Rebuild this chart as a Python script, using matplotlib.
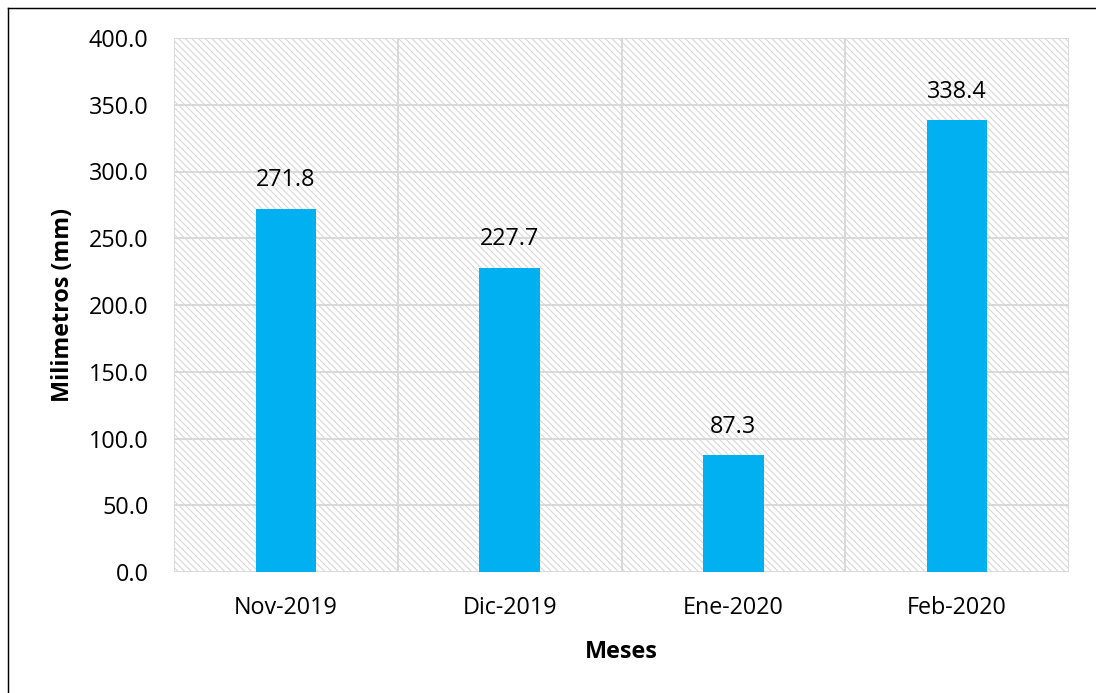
import matplotlib.pyplot as plt
from matplotlib.patches import Rectangle
from matplotlib.lines import Line2D
import numpy as np

meses = ['Nov-2019', 'Dic-2019', 'Ene-2020', 'Feb-2020']
precipitacion = [271.8, 227.7, 87.3, 338.4]
y_ticks = [0, 50, 100, 150, 200, 250, 300, 350, 400]

plt.rcParams['font.family'] = ['Open Sans', 'DejaVu Sans']
plt.rcParams['hatch.color'] = '#d4d4d4'
plt.rcParams['hatch.linewidth'] = 0.9

dpi = 80
fs = 21
fig = plt.figure(figsize=(1096 / dpi, 693 / dpi), dpi=dpi)
ax = fig.add_axes([174 / 1096, 1 - 572 / 693, (1069 - 174) / 1096, (572 - 38) / 693])

# diagonal hatched background of the plot area
ax.add_patch(Rectangle((0, 0), 1, 1, transform=ax.transAxes, facecolor='white',
                       edgecolor='#d4d4d4', hatch='\\\\\\\\', linewidth=0, zorder=0))

x = np.arange(len(meses))
bars = ax.bar(x, precipitacion, width=0.27, color='#00b0f0', zorder=3)

for xi, v in zip(x, precipitacion):
    ax.annotate(f'{v:.1f}', (xi, v), xytext=(0, 15), textcoords='offset points',
                ha='center', va='bottom', fontsize=fs)

ax.set_xlim(-0.5, len(meses) - 0.5)
ax.set_ylim(0, 400)
ax.set_yticks(y_ticks)
ax.set_yticklabels([f'{t:.1f}' for t in y_ticks], fontsize=fs)
ax.set_xticks(x)
ax.set_xticklabels(meses, fontsize=fs)
ax.tick_params(axis='y', length=0, pad=23)
ax.tick_params(axis='x', length=0, pad=22)

# grid lines: horizontal at every tick, vertical between categories
for t in y_ticks:
    ax.axhline(t, color='#d9d9d9', lw=1.8, zorder=1)
for b in np.arange(-0.5, len(meses), 1.0):
    ax.axvline(b, color='#d9d9d9', lw=1.8, zorder=1)
for s in ax.spines.values():
    s.set_visible(False)

ax.set_xlabel('Meses', fontsize=fs, fontweight='bold', labelpad=18)
ax.set_ylabel('Milimetros (mm)', fontsize=fs, fontweight='bold', labelpad=12)

# outer chart frame
fig.add_artist(Line2D([8 / 1096, 8 / 1096], [-0.1, 1 - 8 / 693], color='black', lw=1.3))
fig.add_artist(Line2D([8 / 1096, 1.1], [1 - 8 / 693, 1 - 8 / 693], color='black', lw=1.3))

fig.savefig('out.png', dpi=dpi)
